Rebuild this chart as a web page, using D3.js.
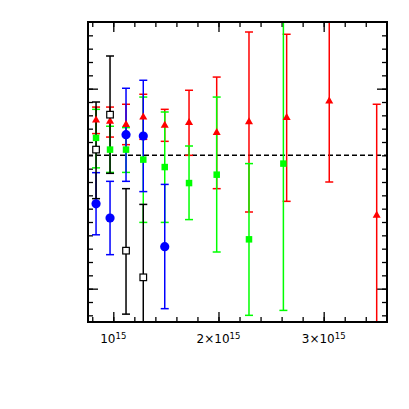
<!DOCTYPE html>
<meta charset="utf-8">
<script src="https://d3js.org/d3.v7.min.js"></script>
<style>
  body { margin: 0; background: #fff; }
</style>
<div id="chart"></div>
<script>

// x in units of 10^15
var xBlack  = [0.836, 0.969, 1.121, 1.285];
var yBlack  = [1.043, 1.305, 0.285, 0.085];
var loBlack = [0.675, 0.865, -0.191, -0.40];
var hiBlack = [1.400, 1.745, 0.750, 0.632];

var xBlue  = [0.836, 0.969, 1.121, 1.285, 1.489];
var yBlue  = [0.636, 0.530, 1.155, 1.145, 0.315];
var loBlue = [0.404, 0.255, 0.805, 0.728, -0.150];
var hiBlue = [0.870, 0.805, 1.503, 1.563, 0.782];

var xRed  = [0.836, 0.969, 1.121, 1.285, 1.489, 1.720, 1.983, 2.290, 2.648, 3.053, 3.504];
var yRed  = [1.263, 1.255, 1.230, 1.287, 1.225, 1.245, 1.170, 1.250, 1.283, 1.407, 0.550];
var loRed = [1.163, 1.137, 1.080, 1.120, 1.105, 1.000, 0.750, 0.575, 0.655, 0.800, -0.40];
var hiRed = [1.362, 1.362, 1.383, 1.458, 1.345, 1.488, 1.587, 1.925, 1.908, 2.200, 1.383];

var xGreen  = [0.836, 0.969, 1.121, 1.285, 1.489, 1.720, 1.983, 2.290, 2.617];
var yGreen  = [1.131, 1.043, 1.043, 0.968, 0.912, 0.792, 0.855, 0.370, 0.938];
var loGreen = [0.906, 0.872, 0.872, 0.497, 0.497, 0.518, 0.275, -0.200, -0.163];
var hiGreen = [1.345, 1.218, 1.208, 1.437, 1.325, 1.070, 1.437, 0.938, 2.300];

var xMajor = [1, 2, 3];
var xMinor = d3.range(0.8, 3.61, 0.2);
var yMajor = [0, 1.5];
var yMinor = d3.range(-0.2, 2.0, 0.1);
var xLabels = ["10", "2\u00d710", "3\u00d710"];
var refLine = 1.0;

var W = 409, H = 409;
var margin = {left: 88, right: 22, top: 22, bottom: 87};
var width = W - margin.left - margin.right,
    height = H - margin.top - margin.bottom;

var svg = d3.select("#chart").append("svg")
    .attr("width", W).attr("height", H);

var g = svg.append("g")
    .attr("transform", "translate(" + margin.left + "," + margin.top + ")");

var x = d3.scaleLinear().domain([0.7595, 3.602]).range([0, width]);
var y = d3.scaleLinear().domain([-0.25, 2.0]).range([height, 0]);

g.append("clipPath").attr("id", "clip")
  .append("rect").attr("width", width).attr("height", height);

// axes: ticks pointing inward, no numbers on y
function ticks(axisFn, scale, vals, len, tr) {
  var a = g.append("g").attr("transform", tr)
    .call(axisFn(scale).tickValues(vals).tickSize(len).tickFormat(""));
  a.select(".domain").remove();
  a.selectAll("line").attr("stroke", "#000").attr("stroke-width", 1.3);
}
ticks(d3.axisBottom, x, xMinor, -5, "translate(0," + height + ")");
ticks(d3.axisBottom, x, xMajor, -10, "translate(0," + height + ")");
ticks(d3.axisTop, x, xMinor, -5, "translate(0,0)");
ticks(d3.axisTop, x, xMajor, -10, "translate(0,0)");
ticks(d3.axisLeft, y, yMinor, -5, "translate(0,0)");
ticks(d3.axisLeft, y, yMajor, -10, "translate(0,0)");
ticks(d3.axisRight, y, yMinor, -5, "translate(" + width + ",0)");
ticks(d3.axisRight, y, yMajor, -10, "translate(" + width + ",0)");

// dashed reference line
g.append("line")
  .attr("x1", 0).attr("x2", width)
  .attr("y1", y(refLine)).attr("y2", y(refLine))
  .attr("stroke", "#000").attr("stroke-width", 1.5)
  .attr("stroke-dasharray", "5,3");

var plot = g.append("g").attr("clip-path", "url(#clip)");

function errorBars(xs, lo, hi, color) {
  var eb = plot.append("g").attr("stroke", color).attr("stroke-width", 1.5);
  xs.forEach(function(v, i) {
    eb.append("line").attr("x1", x(v)).attr("x2", x(v))
      .attr("y1", y(lo[i])).attr("y2", y(hi[i]));
    [lo[i], hi[i]].forEach(function(e) {
      eb.append("line").attr("x1", x(v) - 4).attr("x2", x(v) + 4)
        .attr("y1", y(e)).attr("y2", y(e));
    });
  });
}
errorBars(xRed, loRed, hiRed, "#ff0000");
errorBars(xGreen, loGreen, hiGreen, "#00ff00");
errorBars(xBlue, loBlue, hiBlue, "#0000ff");
errorBars(xBlack, loBlack, hiBlack, "#000");

// markers
plot.selectAll("path.tri").data(xRed).enter().append("path")
  .attr("d", d3.symbol().type(d3.symbolTriangle).size(28))
  .attr("transform", function(d, i) { return "translate(" + x(d) + "," + y(yRed[i]) + ")"; })
  .attr("fill", "#ff0000");

plot.selectAll("rect.sq").data(xGreen).enter().append("rect")
  .attr("x", function(d) { return x(d) - 3.25; })
  .attr("y", function(d, i) { return y(yGreen[i]) - 3.25; })
  .attr("width", 6.5).attr("height", 6.5)
  .attr("fill", "#00ff00");

plot.selectAll("circle").data(xBlue).enter().append("circle")
  .attr("cx", function(d) { return x(d); })
  .attr("cy", function(d, i) { return y(yBlue[i]); })
  .attr("r", 4.6)
  .attr("fill", "#0000ff");

plot.selectAll("rect.osq").data(xBlack).enter().append("rect")
  .attr("x", function(d) { return x(d) - 3.3; })
  .attr("y", function(d, i) { return y(yBlack[i]) - 3.3; })
  .attr("width", 6.6).attr("height", 6.6)
  .attr("fill", "#fff").attr("stroke", "#000").attr("stroke-width", 1.2);

// frame
g.append("rect").attr("width", width).attr("height", height)
  .attr("fill", "none").attr("stroke", "#000").attr("stroke-width", 2);

// x tick labels
var lab = g.append("g").attr("font-family", "DejaVu Sans, sans-serif").attr("fill", "#000");
xMajor.forEach(function(v, i) {
  var t = lab.append("text")
    .attr("x", x(v)).attr("y", height + 21)
    .attr("text-anchor", "middle")
    .attr("font-size", 12);
  t.append("tspan").text(xLabels[i]);
  t.append("tspan").attr("dy", -4).attr("font-size", 8.5).text("15");
});

</script>
